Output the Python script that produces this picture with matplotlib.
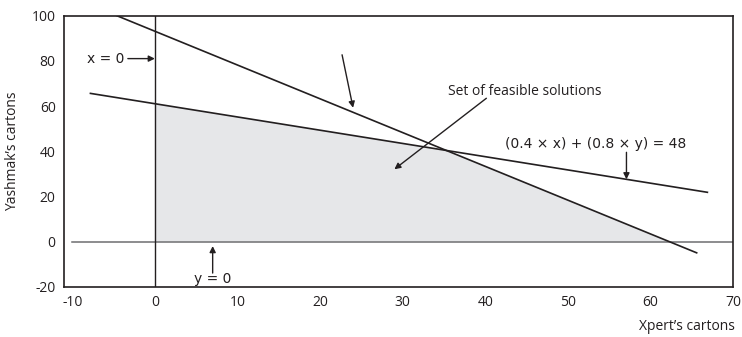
import numpy as np
import matplotlib
matplotlib.use("Agg")
import matplotlib.pyplot as plt

plt.rcParams['font.family'] = ['Open Sans', 'DejaVu Sans']
plt.rcParams['axes.unicode_minus'] = False

# ---- data ----
x_ticks = [-10, 0, 10, 20, 30, 40, 50, 60, 70]
y_ticks = [-20, 0, 20, 40, 60, 80, 100]

# steep constraint line (endpoints)
steep_x = [-4.6, 65.6]
steep_y = [100.0, -5.0]
# budget constraint (0.4x + 0.8y = 48) as drawn
budget_x = [-7.8, 66.9]
budget_y = [65.6, 21.8]

# axis lines
xaxis_line_x = [-10, 70]   # y = 0
yaxis_line_y = [-20, 100]  # x = 0

# ---- helpers ----
def line_coef(xs, ys):
    m = (ys[1] - ys[0]) / (xs[1] - xs[0])
    return m, ys[0] - m * xs[0]

m1, b1 = line_coef(steep_x, steep_y)
m2, b2 = line_coef(budget_x, budget_y)
xi = (b2 - b1) / (m1 - m2)
yi = m1 * xi + b1
poly_x = [0, 0, xi, -b1 / m1]
poly_y = [0, b2, yi, 0]

fig = plt.figure(figsize=(7.42, 3.37), dpi=100)
ax = fig.add_axes([64 / 742, 1 - 286.7 / 337, (733 - 64) / 742, (286.7 - 15.7) / 337])

ink = '#231f20'
ax.fill(poly_x, poly_y, color='#e6e7e9', lw=0, zorder=1)
ax.plot(xaxis_line_x, [0, 0], color='#6d6e70', lw=1.1, zorder=2)
ax.plot([0, 0], yaxis_line_y, color=ink, lw=1.0, zorder=2)
ax.plot(steep_x, steep_y, color=ink, lw=1.2, zorder=3)
ax.plot(budget_x, budget_y, color=ink, lw=1.2, zorder=3)

ax.set_xlim(-11, 70)
ax.set_ylim(-20, 100)
ax.set_xticks(x_ticks)
ax.set_yticks(y_ticks)
ax.tick_params(length=0, labelsize=10, colors=ink, pad=6)
for s in ax.spines.values():
    s.set_color(ink)
    s.set_linewidth(1.2)

arrow = dict(arrowstyle='-|>', color=ink, lw=1.0, mutation_scale=9, shrinkA=0, shrinkB=0)
fs = 10
eqfont = ['DejaVu Sans']

# x = 0
ax.annotate('', xy=(0, 81), xytext=(-27, 0), textcoords='offset pixels', arrowprops=arrow)
ax.annotate('x = 0', xy=(0, 81), xytext=(-30, 0), textcoords='offset pixels',
            ha='right', va='center', fontsize=fs, color=ink, family=eqfont)
# y = 0
ax.annotate('', xy=(7, -2), xytext=(0, -27), textcoords='offset pixels', arrowprops=arrow)
ax.annotate('y = 0', xy=(7, -2), xytext=(0, -33), textcoords='offset pixels',
            ha='center', va='center', fontsize=fs, color=ink, family=eqfont)
# arrow to steep line
ax.annotate('', xy=(24, m1 * 24 + b1 + 2), xytext=(-11, 53), textcoords='offset pixels', arrowprops=arrow)
# feasible set
ax.annotate('', xy=(29, 32), xytext=(92, 71), textcoords='offset pixels', arrowprops=arrow)
ax.annotate('Set of feasible solutions', xy=(29, 32), xytext=(130, 78), textcoords='offset pixels',
            ha='center', va='center', fontsize=fs, color=ink)
# budget line label
bx = 57.1
ax.annotate('', xy=(bx, m2 * bx + b2), xytext=(0, 27), textcoords='offset pixels', arrowprops=arrow)
ax.annotate('(0.4 × x) + (0.8 × y) = 48', xy=(bx, m2 * bx + b2), xytext=(-31, 35),
            textcoords='offset pixels', ha='center', va='center', fontsize=fs, color=ink,
            family=eqfont)

ax.set_ylabel('Yashmak’s cartons', fontsize=fs, color=ink, labelpad=8)
fig.text(735 / 742, 1 - 327 / 337, 'Xpert’s cartons', ha='right', va='center', fontsize=fs, color=ink)

fig.savefig('out.png', dpi=100)
